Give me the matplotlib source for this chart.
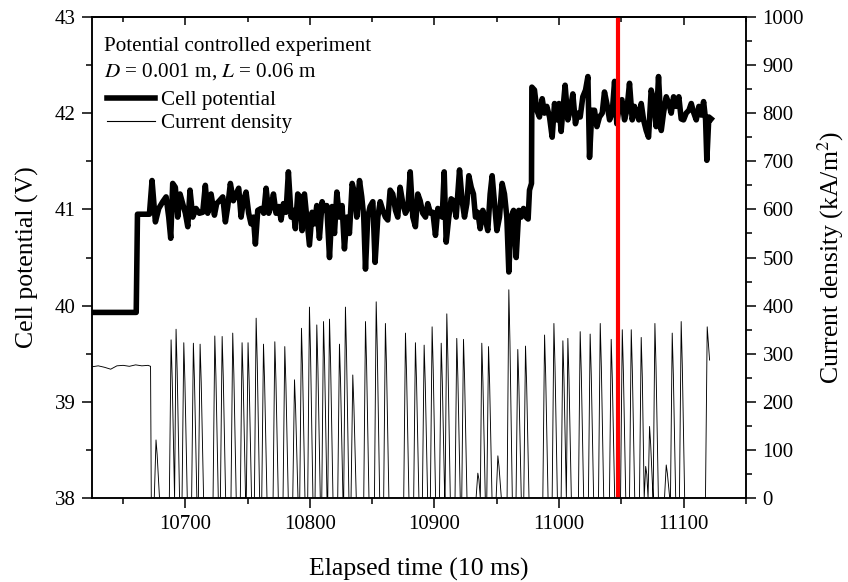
import matplotlib
matplotlib.use("Agg")
import matplotlib.pyplot as plt
from matplotlib.lines import Line2D
from matplotlib.ticker import MultipleLocator

plt.rcParams["font.family"] = ["Liberation Serif", "DejaVu Serif"]
plt.rcParams["mathtext.fontset"] = "stix"

# cell potential trace (time in 10 ms, potential in V)
pot_time = [
    10625.0, 10660.5, 10661.5, 10671.1, 10673.2, 10675.9, 10678.6, 10681.8, 10684.5, 10686.6,
    10688.2, 10689.8, 10691.9, 10693.8, 10695.7, 10697.8, 10700.0, 10701.9, 10703.7, 10705.9,
    10708.5, 10711.2, 10713.9, 10716.0, 10717.9, 10720.6, 10723.3, 10725.1, 10727.3, 10730.0,
    10732.1, 10734.0, 10736.1, 10738.5, 10740.7, 10742.8, 10744.7, 10746.6, 10748.7, 10750.8,
    10752.7, 10754.6, 10756.2, 10758.1, 10760.8, 10762.9, 10764.8, 10766.9, 10768.8, 10770.7,
    10772.8, 10775.0, 10776.8, 10778.7, 10780.8, 10782.7, 10784.9, 10786.7, 10788.3, 10790.2,
    10792.1, 10793.7, 10795.6, 10797.4, 10799.6, 10801.7, 10803.6, 10805.5, 10807.6, 10809.8,
    10811.6, 10813.5, 10815.7, 10817.8, 10819.7, 10821.6, 10823.7, 10825.8, 10827.7, 10829.6,
    10831.7, 10833.9, 10836.0, 10837.6, 10839.8, 10841.6, 10843.2, 10844.6, 10846.4, 10848.3,
    10850.5, 10852.3, 10854.5, 10856.4, 10858.5, 10860.6, 10862.5, 10864.4, 10866.5, 10868.7,
    10870.5, 10872.4, 10874.6, 10876.7, 10878.6, 10880.5, 10882.6, 10884.7, 10886.6, 10888.5,
    10890.6, 10892.8, 10894.6, 10896.8, 10898.7, 10900.8, 10902.7, 10904.5, 10906.2, 10907.8,
    10909.4, 10911.5, 10913.4, 10915.3, 10917.4, 10920.1, 10922.2, 10924.1, 10926.0, 10927.6,
    10929.5, 10931.3, 10932.9, 10934.8, 10936.7, 10938.8, 10941.0, 10942.8, 10944.7, 10946.3,
    10948.2, 10950.1, 10952.2, 10954.3, 10956.2, 10958.1, 10959.7, 10961.6, 10963.5, 10965.6,
    10967.7, 10969.6, 10971.5, 10973.6, 10975.2, 10976.3, 10977.9, 10978.2, 10980.3, 10982.2,
    10984.3, 10986.5, 10988.3, 10990.2, 10992.4, 10994.5, 10996.4, 10998.3, 10999.9, 11001.7,
    11003.1, 11004.9, 11007.1, 11009.0, 11011.1, 11013.2, 11015.1, 11017.0, 11019.1, 11021.3,
    11023.2, 11024.5, 11026.4, 11028.5, 11030.4, 11032.5, 11034.7, 11036.5, 11038.4, 11040.6,
    11042.7, 11044.6, 11046.4, 11048.6, 11050.5, 11052.6, 11054.5, 11056.6, 11058.8, 11060.6,
    11062.5, 11064.1, 11066.0, 11067.9, 11070.0, 11071.9, 11074.0, 11075.9, 11078.0, 11079.9,
    11082.1, 11083.9, 11086.1, 11088.2, 11090.1, 11092.0, 11094.1, 11096.2, 11098.1, 11100.0,
    11102.1, 11104.3, 11106.2, 11108.0, 11110.2, 11112.3, 11114.2, 11116.1, 11117.7, 11118.7,
    11120.3, 11122.2,
]
pot_volt = [
    39.93, 39.93, 40.95, 40.95, 41.30, 40.87, 41.01, 41.08, 41.13, 40.92,
    40.70, 41.27, 41.23, 40.92, 41.16, 41.06, 40.96, 40.82, 41.20, 40.92,
    41.01, 40.96, 40.97, 41.25, 40.96, 41.16, 40.94, 41.06, 41.09, 41.13,
    40.87, 41.03, 41.27, 41.09, 41.16, 41.22, 40.92, 41.09, 41.18, 40.96,
    40.85, 40.92, 40.64, 40.99, 41.01, 40.96, 41.22, 40.96, 41.03, 41.16,
    40.96, 41.03, 40.89, 41.06, 40.97, 41.39, 40.92, 40.99, 40.80, 41.16,
    41.13, 40.78, 41.16, 40.92, 40.63, 40.97, 40.85, 41.04, 40.70, 41.08,
    40.99, 41.04, 40.50, 41.03, 40.75, 41.18, 40.92, 41.04, 40.59, 40.92,
    40.75, 41.27, 41.16, 40.92, 41.30, 41.13, 40.92, 40.38, 40.92, 41.03,
    41.08, 40.45, 40.92, 41.08, 40.99, 40.92, 40.89, 41.20, 41.16, 40.99,
    40.92, 41.23, 41.06, 40.96, 41.01, 41.39, 40.92, 40.82, 41.16, 41.09,
    40.96, 40.92, 41.06, 40.96, 40.97, 40.73, 41.01, 40.96, 40.92, 41.39,
    40.66, 40.92, 41.11, 41.09, 40.92, 41.41, 41.09, 40.92, 41.06, 41.35,
    41.23, 41.16, 40.92, 40.97, 40.80, 40.99, 40.89, 40.78, 41.16, 41.35,
    41.06, 40.78, 40.92, 41.27, 41.16, 40.92, 40.35, 40.92, 40.99, 40.50,
    40.99, 40.92, 41.01, 40.92, 40.90, 41.20, 41.27, 42.27, 42.24, 42.03,
    41.96, 42.15, 42.00, 42.07, 41.96, 41.75, 42.10, 41.93, 42.10, 41.81,
    42.03, 42.29, 41.93, 42.03, 42.20, 41.89, 42.00, 41.96, 42.17, 42.24,
    42.38, 41.54, 42.03, 42.03, 41.86, 41.96, 42.00, 42.22, 42.10, 41.93,
    42.00, 42.33, 41.89, 42.10, 42.14, 41.93, 42.03, 42.31, 41.93, 42.07,
    42.00, 41.93, 42.10, 41.93, 41.82, 41.75, 42.24, 42.14, 41.86, 42.38,
    41.82, 42.00, 42.17, 42.10, 42.00, 42.17, 42.07, 42.17, 41.94, 41.93,
    42.00, 42.03, 42.10, 42.01, 41.93, 42.07, 41.98, 42.12, 41.93, 41.51,
    41.96, 41.94,
]

# current density: steady part before the spikes (kA/m2)
cd_flat_time = [10625, 10630, 10635, 10640, 10645, 10650, 10655, 10660, 10665, 10670, 10672.0]
cd_flat_val = [273, 275, 272, 268, 275, 276, 274, 277, 275, 276, 274]

# current density spikes: peak time and peak value
spike_time = [
    10676.4, 10688.5, 10692.5, 10698.7, 10706.4, 10711.8, 10723.6, 10729.5, 10738.0, 10745.5,
    10750.3, 10756.8, 10762.7, 10771.8, 10779.8, 10787.6, 10793.2, 10799.6, 10805.5, 10810.9,
    10815.7, 10823.7, 10828.5, 10834.4, 10844.6, 10853.2, 10860.6, 10876.7, 10884.7, 10891.7,
    10898.1, 10905.4, 10909.9, 10917.9, 10923.3, 10934.8, 10938.0, 10943.4, 10950.9, 10959.7,
    10966.9, 10973.1, 10988.4, 10995.9, 11003.1, 11007.1, 11017.0, 11025.0, 11033.1, 11041.9,
    11050.8, 11058.0, 11066.0, 11069.6, 11072.7, 11077.0, 11086.1, 11090.9, 11098.1, 11119.0,
]
spike_peak = [
    121, 329, 351, 323, 322, 320, 337, 336, 343, 323,
    323, 374, 320, 325, 315, 246, 353, 397, 360, 367,
    372, 320, 397, 256, 367, 408, 363, 343, 323, 318,
    356, 322, 383, 332, 330, 52, 322, 315, 88, 433,
    309, 316, 339, 363, 327, 332, 346, 341, 363, 330,
    350, 350, 334, 66, 149, 363, 69, 343, 367, 356,
]
cd_end_time = 11120.9
cd_end_val = 287

marker_time = 11047

# build the spike trace from the peaks
cd_t = list(cd_flat_time) + [cd_flat_time[-1] + 0.6]
cd_v = list(cd_flat_val) + [0]
for i, (t, p) in enumerate(zip(spike_time, spike_peak)):
    t_start = max(t - 1.4, cd_t[-1])
    cd_t += [t_start, t]
    cd_v += [0, p]
    if i == len(spike_time) - 1:
        cd_t.append(cd_end_time)
        cd_v.append(cd_end_val)
        break
    t_end = min(t + 2.8, spike_time[i + 1] - 1.2)
    cd_t += [t + 0.9, t_end]
    cd_v += [0.75 * p, 0]

fig = plt.figure(figsize=(8.48, 5.82), dpi=100)
ax = fig.add_axes([0.1085, 0.144, 0.7710, 0.8270])
ax2 = ax.twinx()

ax.plot(pot_time, pot_volt, color="black", lw=4.0, solid_joinstyle="round")
ax2.plot(cd_t, cd_v, color="black", lw=0.65)
ax.axvline(marker_time, color="#ff0000", lw=3.0, zorder=5)

ax.set_xlim(10625, 11150)
ax.set_ylim(38, 43)
ax2.set_ylim(0, 1000)
ax.xaxis.set_major_locator(MultipleLocator(100))
ax.xaxis.set_minor_locator(MultipleLocator(50))
ax.yaxis.set_major_locator(MultipleLocator(1))
ax.yaxis.set_minor_locator(MultipleLocator(0.5))
ax2.yaxis.set_major_locator(MultipleLocator(100))
ax2.yaxis.set_minor_locator(MultipleLocator(50))

ax.tick_params(axis="x", which="both", direction="out", top=False, labelsize=15, pad=5, width=1.1)
ax.tick_params(axis="y", which="both", direction="out", right=False, labelsize=15, pad=5, width=1.1)
ax2.tick_params(axis="y", which="both", direction="out", labelsize=15, pad=5, width=1.1)
for a in (ax, ax2):
    a.tick_params(which="major", length=7)
    a.tick_params(which="minor", length=4)
    for s in a.spines.values():
        s.set_linewidth(1.1)

# top axis carries inward ticks only
top = ax.secondary_xaxis("top")
top.xaxis.set_major_locator(MultipleLocator(100))
top.xaxis.set_minor_locator(MultipleLocator(50))
top.tick_params(which="both", direction="in", labeltop=False, width=1.1)
top.tick_params(which="major", length=6)
top.tick_params(which="minor", length=3.5)
top.spines["top"].set_linewidth(1.1)

ax.set_xlabel("Elapsed time (10 ms)", fontsize=18.5, labelpad=17)
ax.set_ylabel("Cell potential (V)", fontsize=18.5, labelpad=11)
ax2.set_ylabel("Current density (kA/m$^2$)", fontsize=18.5, labelpad=8)

ax.text(0.018, 0.938, "Potential controlled experiment", transform=ax.transAxes,
        fontsize=15.2, va="center", ha="left")
ax.text(0.018, 0.886, "$D$ = 0.001 m, $L$ = 0.06 m", transform=ax.transAxes,
        fontsize=15.2, va="center", ha="left")
handles = [Line2D([], [], color="black", lw=4.0), Line2D([], [], color="black", lw=0.8)]
ax.legend(handles, ["Cell potential", "Current density"], loc="upper left",
          bbox_to_anchor=(0.0, 0.878), frameon=False, fontsize=15.2,
          handlelength=2.3, handletextpad=0.25, borderaxespad=0.3, labelspacing=0.15)

fig.savefig("out.png", dpi=100)
